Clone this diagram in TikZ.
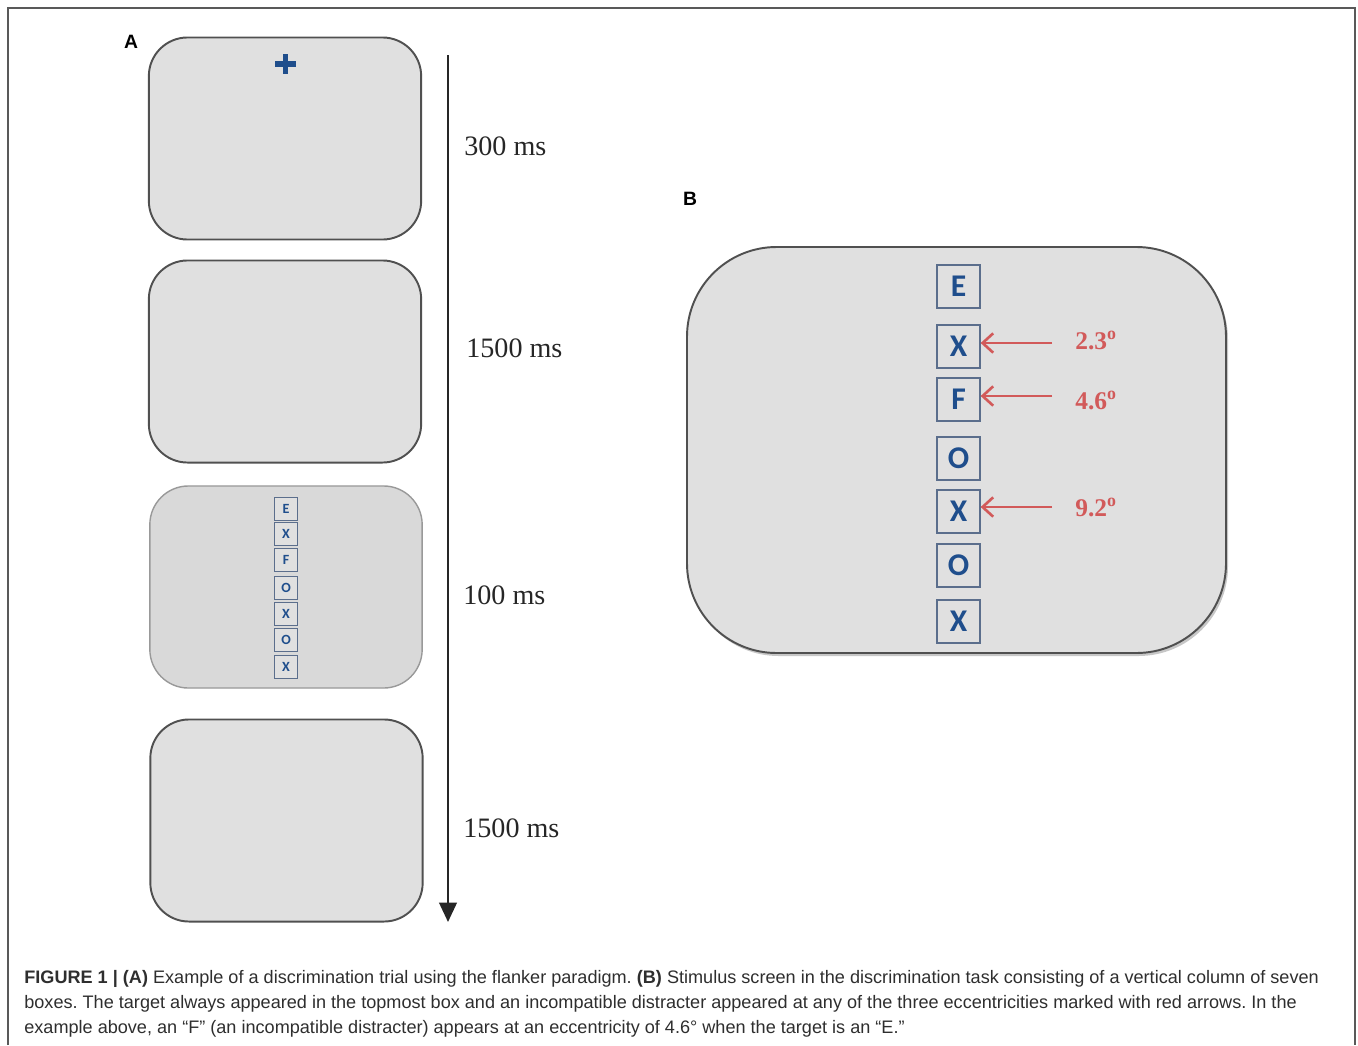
\documentclass[tikz,border=0pt]{standalone}
\usepackage{fontspec}
\setmainfont{Liberation Serif}
\setsansfont{Liberation Sans}
\newfontfamily\lettfont{Carlito}
\usetikzlibrary{arrows.meta}

\definecolor{ScreenGray}{HTML}{E0E0E0}
\definecolor{EdgeGray}{HTML}{505050}
\definecolor{LetterBlue}{HTML}{1F4E8C}
\definecolor{BoxBlue}{HTML}{5B6E8C}
\definecolor{MarkRed}{HTML}{D25A5A}
\definecolor{CapGray}{HTML}{2E2E2E}

\newcommand*{\CapScale}{1.0}
\newcommand*{\CapLine}[1]{\scalebox{\CapScale}[1]{#1}}
\newcommand*{\LetterColumn}[4]{% #1 = prefix, #2 = x, #3 = style, #4 = list of y/letter
  \foreach \y/\ltr [count=\i] in {#4} {
    \node [#3] (#1\i) at (#2,\y) {\ltr};
  }%
}

\tikzset{
  screen/.style={draw=EdgeGray, fill=ScreenGray, line width=1.1pt,
    rounded corners=22pt, minimum width=155pt, minimum height=115pt},
  smallbox/.style={draw=BoxBlue, fill=ScreenGray, line width=0.6pt, inner sep=0pt,
    minimum width=13.6pt, minimum height=13pt, text=LetterBlue,
    font=\lettfont\bfseries\fontsize{8pt}{8pt}\selectfont},
  bigbox/.style={draw=BoxBlue, line width=0.8pt, inner sep=0pt,
    minimum width=24.4pt, minimum height=24.4pt, text=LetterBlue,
    font=\lettfont\bfseries\fontsize{18pt}{18pt}\selectfont},
  timelabel/.style={anchor=base west, inner sep=0pt, text=black!85,
    font=\fontsize{16pt}{18pt}\selectfont},
  deglabel/.style={anchor=base west, inner sep=0pt, text=MarkRed,
    font=\bfseries\fontsize{14.5pt}{16pt}\selectfont},
  panel/.style={anchor=center, inner sep=0pt,
    font=\sffamily\bfseries\fontsize{11pt}{12pt}\selectfont},
  capline/.style={anchor=base west, inner sep=0pt, text=CapGray,
    font=\sffamily\fontsize{10.3pt}{12pt}\selectfont},
  redarrow/.style={draw=MarkRed, line width=1.5pt, -{Straight Barb[length=6pt, width=11pt]}}
}

\begin{document}
\frenchspacing
\begin{tikzpicture}[x=0.02cm, y=-0.02cm]
  \useasboundingbox (0,0) rectangle (1358,1045);
  % frame
  \draw[black!65, line width=1pt] (8,1045) -- (8,8) -- (1355,8) -- (1355,1045);

  % panel A: screens and time line
  \node[panel] (labA) at (131,42) {A};
  \node[screen] (scr1) at (285,138.5) {};
  \node[screen] (scr2) at (285,361.5) {};
  \node[screen, draw=black!40, fill=black!15, line width=0.8pt] (scr3) at (286,587) {};
  \node[screen] (scr4) at (286.5,820.5) {};
  \draw[LetterBlue, line width=3.4pt] (275,64) -- (296,64) (285.5,54) -- (285.5,74);
  \LetterColumn{s}{286}{smallbox}{509/E, 534/X, 560/F, 588/O, 614/X, 640/O, 667/X}

  \coordinate (tl0) at (448,55);
  \coordinate (tl1) at (448,922);
  \draw[black!85, line width=1.2pt, -{Triangle[length=11pt, width=10pt]}] (tl0) -- (tl1);
  \node[timelabel] (t1) at (464,155) {300 ms};
  \node[timelabel] (t2) at (466,357) {1500 ms};
  \node[timelabel] (t3) at (463,604) {100 ms};
  \node[timelabel] (t4) at (463,837) {1500 ms};

  % panel B: stimulus screen
  \node[panel] (labB) at (690,199) {B};
  \fill[black!22, rounded corners=51pt] (689,250) rectangle (1228,656);
  \draw[screen, rounded corners=51pt] (687,247) rectangle (1226,653);
  \LetterColumn{b}{958.5}{bigbox}{286.5/E, 346.5/X, 399.5/F, 458.5/O, 511.5/X, 565.5/O, 621.5/X}

  \coordinate (m1) at (1052,343);
  \coordinate (m2) at (1052,396);
  \coordinate (m3) at (1052,507);
  \draw[redarrow] (m1) -- (m1 -| b2.east);
  \draw[redarrow] (m2) -- (m2 -| b3.east);
  \draw[redarrow] (m3) -- (m3 -| b5.east);
  \node[deglabel] (d1) at (1075,349) {2.3\textsuperscript{o}};
  \node[deglabel] (d2) at (1075,409) {4.6\textsuperscript{o}};
  \node[deglabel] (d3) at (1075,516) {9.2\textsuperscript{o}};

  % caption
  \node[capline] (c1) at (24,983) {\CapLine{\textbf{FIGURE 1 | (A)} Example of a discrimination trial using the flanker paradigm. \textbf{(B)} Stimulus screen in the discrimination task consisting of a vertical column of seven}};
  \node[capline] (c2) at (24,1008) {\CapLine{boxes. The target always appeared in the topmost box and an incompatible distracter appeared at any of the three eccentricities marked with red arrows. In the}};
  \node[capline] (c3) at (24,1033) {\CapLine{example above, an \textquotedblleft F\textquotedblright{} (an incompatible distracter) appears at an eccentricity of 4.6\textdegree{} when the target is an \textquotedblleft E.\textquotedblright}};
\end{tikzpicture}
\end{document}
